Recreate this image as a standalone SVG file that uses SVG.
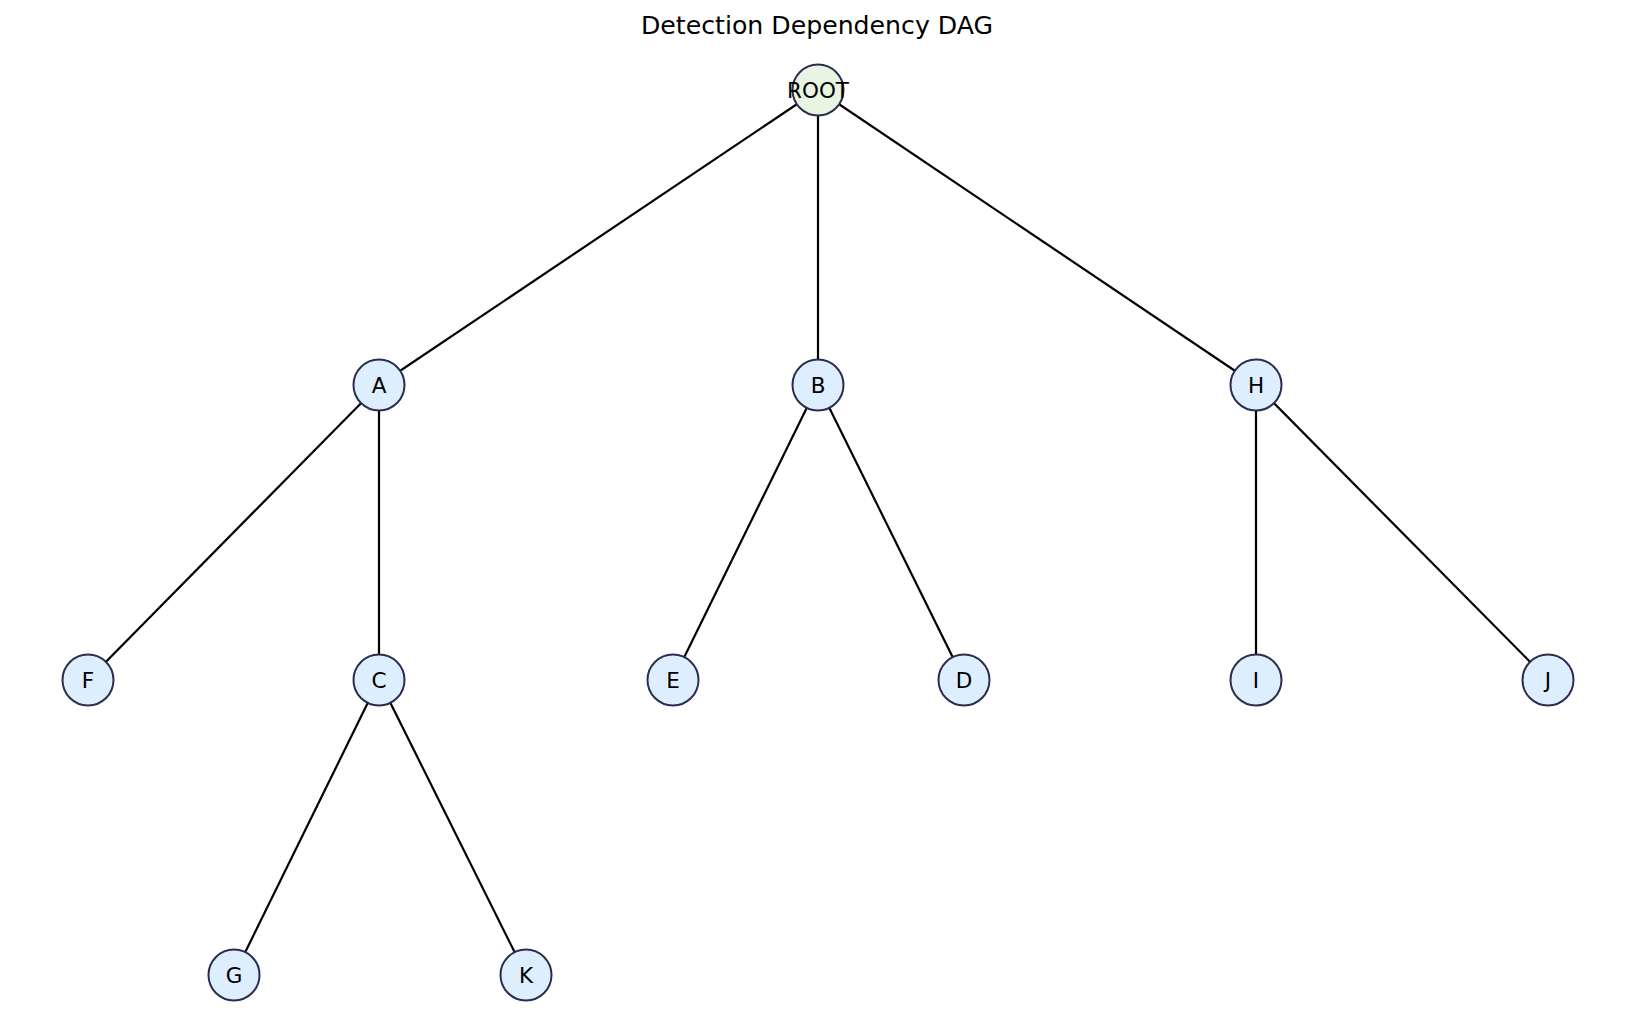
<svg xmlns="http://www.w3.org/2000/svg" width="1635" height="1034" viewBox="0 0 1635 1034">
<style>
.edge{stroke:#000;stroke-width:2.2;fill:none}
.node circle{fill:#ddeefe;stroke:#2a2c50;stroke-width:2}
.node.root circle{fill:#e8f5e3}
.lbl{font-family:"DejaVu Sans",sans-serif;font-size:21.5px;fill:#000;text-anchor:middle;dominant-baseline:central}
.title{font-family:"DejaVu Sans",sans-serif;font-size:25.2px;fill:#000;text-anchor:middle}
</style>
<rect width="1635" height="1034" fill="#fff"/>
<text class="title" x="817" y="34">Detection Dependency DAG</text>
<g id="connectors">
<line class="edge" x1="818" y1="90" x2="379" y2="385"/>
<line class="edge" x1="818" y1="90" x2="818" y2="385"/>
<line class="edge" x1="818" y1="90" x2="1256" y2="385"/>
<line class="edge" x1="379" y1="385" x2="88" y2="680"/>
<line class="edge" x1="379" y1="385" x2="379" y2="680"/>
<line class="edge" x1="818" y1="385" x2="673" y2="680"/>
<line class="edge" x1="818" y1="385" x2="964" y2="680"/>
<line class="edge" x1="1256" y1="385" x2="1256" y2="680"/>
<line class="edge" x1="1256" y1="385" x2="1548" y2="680"/>
<line class="edge" x1="379" y1="680" x2="234" y2="975"/>
<line class="edge" x1="379" y1="680" x2="526" y2="975"/>
</g>
<g id="node-ROOT" class="node root"><circle cx="818" cy="90" r="25.5"/><text class="lbl" x="818" y="90">ROOT</text></g>
<g id="node-A" class="node"><circle cx="379" cy="385" r="25.5"/><text class="lbl" x="379" y="385">A</text></g>
<g id="node-B" class="node"><circle cx="818" cy="385" r="25.5"/><text class="lbl" x="818" y="385">B</text></g>
<g id="node-H" class="node"><circle cx="1256" cy="385" r="25.5"/><text class="lbl" x="1256" y="385">H</text></g>
<g id="node-F" class="node"><circle cx="88" cy="680" r="25.5"/><text class="lbl" x="88" y="680">F</text></g>
<g id="node-C" class="node"><circle cx="379" cy="680" r="25.5"/><text class="lbl" x="379" y="680">C</text></g>
<g id="node-E" class="node"><circle cx="673" cy="680" r="25.5"/><text class="lbl" x="673" y="680">E</text></g>
<g id="node-D" class="node"><circle cx="964" cy="680" r="25.5"/><text class="lbl" x="964" y="680">D</text></g>
<g id="node-I" class="node"><circle cx="1256" cy="680" r="25.5"/><text class="lbl" x="1256" y="680">I</text></g>
<g id="node-J" class="node"><circle cx="1548" cy="680" r="25.5"/><text class="lbl" x="1548" y="680">J</text></g>
<g id="node-G" class="node"><circle cx="234" cy="975" r="25.5"/><text class="lbl" x="234" y="975">G</text></g>
<g id="node-K" class="node"><circle cx="526" cy="975" r="25.5"/><text class="lbl" x="526" y="975">K</text></g>
</svg>
